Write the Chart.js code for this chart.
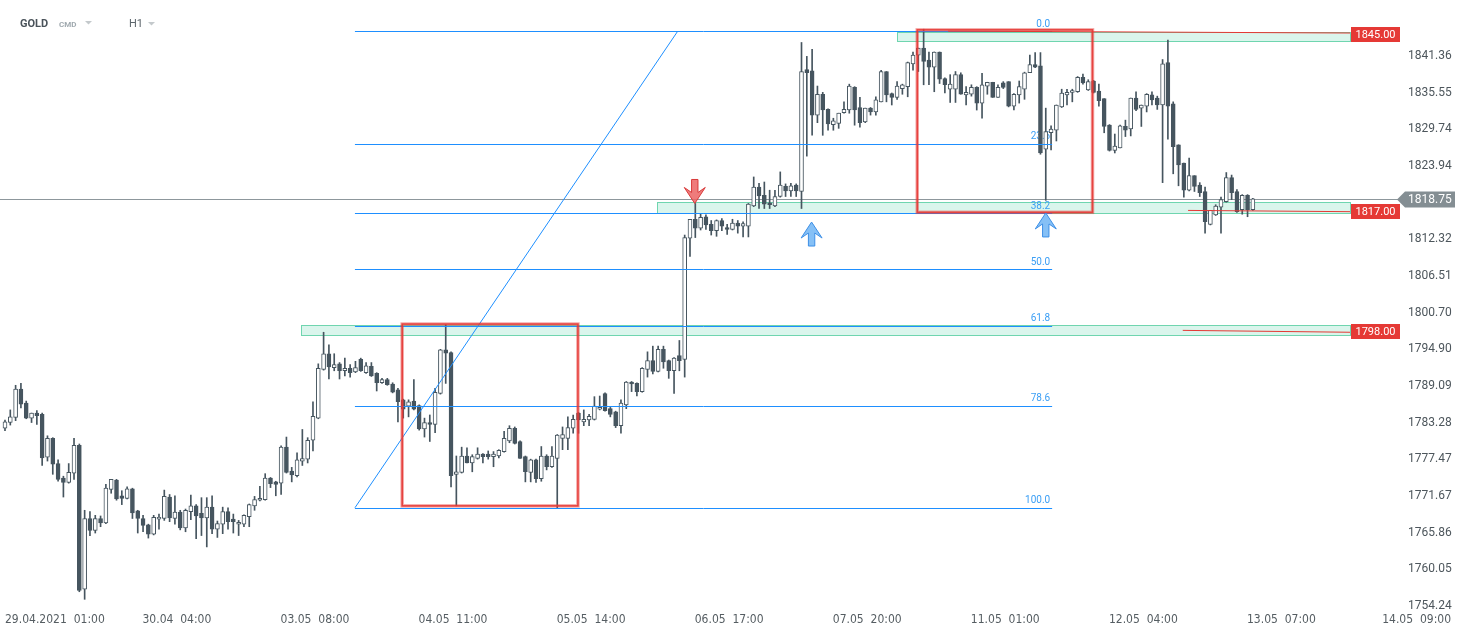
<!DOCTYPE html>
<html>
<head>
<meta charset="utf-8">
<script src="https://cdn.jsdelivr.net/npm/chart.js@4.4.0/dist/chart.umd.min.js"></script>
<style>
  html, body { margin: 0; padding: 0; background: #fff; }
</style>
</head>
<body>
<canvas id="chart" width="1467" height="636"></canvas>
<script>
// GOLD H1 candles, 28.04 - 13.05.2021, one value per hourly bar
const opens = [
  1782.4, 1783.3, 1784.1, 1788.6, 1786.4, 1784.0, 1784.8, 1784.6, 1777.8, 1780.8,
  1776.8, 1774.5, 1773.8, 1775.3, 1779.7, 1756.9, 1768.1, 1766.2, 1768.1, 1767.4,
  1772.7, 1774.2, 1771.7, 1771.3, 1772.8, 1769.3, 1768.1, 1767.1, 1765.6, 1768.0,
  1768.1, 1771.5, 1768.1, 1769.1, 1766.6, 1769.2, 1770.1, 1768.9, 1768.2, 1769.9,
  1766.4, 1767.2, 1769.2, 1768.0, 1767.2, 1767.2, 1768.4, 1770.1, 1771.0, 1771.1,
  1774.5, 1773.9, 1773.7, 1779.4, 1775.6, 1774.9, 1777.2, 1777.5, 1780.5, 1784.0,
  1791.7, 1794.2, 1792.0, 1792.6, 1791.5, 1791.9, 1791.3, 1793.3, 1791.2, 1792.2,
  1791.1, 1789.6, 1790.1, 1789.4, 1788.5, 1786.9, 1785.9, 1786.7, 1786.0, 1782.3,
  1783.3, 1783.0, 1787.9, 1794.8, 1794.4, 1775.1, 1775.4, 1778.0, 1776.9, 1777.6,
  1778.3, 1778.3, 1777.9, 1778.0, 1778.7, 1780.4, 1782.4, 1780.3, 1777.9, 1775.4,
  1777.4, 1774.4, 1778.0, 1776.3, 1777.6, 1780.8, 1780.8, 1782.4, 1784.8, 1783.4,
  1783.7, 1783.8, 1785.4, 1787.9, 1785.5, 1785.0, 1782.8, 1786.1, 1789.7, 1789.5,
  1788.2, 1791.7, 1793.1, 1791.4, 1794.9, 1793.1, 1791.5, 1793.9, 1793.3, 1812.5,
  1815.5, 1814.1, 1815.9, 1814.7, 1813.7, 1815.3, 1814.2, 1813.9, 1814.9, 1814.4,
  1814.4, 1817.6, 1820.6, 1819.3, 1818.1, 1817.6, 1819.1, 1820.7, 1820.0, 1820.9,
  1819.9, 1839.2, 1839.0, 1832.0, 1835.3, 1832.9, 1830.5, 1830.7, 1832.4, 1832.8,
  1836.4, 1833.2, 1830.9, 1833.1, 1832.5, 1834.1, 1838.9, 1835.4, 1834.8, 1836.2,
  1836.5, 1840.1, 1841.5, 1842.6, 1840.7, 1839.6, 1842.0, 1837.8, 1836.1, 1836.1,
  1838.4, 1835.2, 1835.3, 1836.4, 1833.9, 1836.6, 1837.2, 1834.8, 1837.1, 1837.3,
  1833.4, 1835.2, 1836.1, 1838.7, 1840.0, 1839.8, 1826.6, 1829.2, 1829.6, 1833.3,
  1835.2, 1835.6, 1835.7, 1838.0, 1836.0, 1837.4, 1835.8, 1834.6, 1830.4, 1826.4,
  1826.8, 1830.2, 1829.8, 1834.7, 1833.1, 1833.4, 1835.2, 1834.7, 1833.6, 1840.3,
  1833.8, 1827.3, 1824.4, 1820.1, 1822.4, 1820.9, 1819.9, 1814.7, 1816.2, 1817.4,
  1818.3, 1822.1, 1819.9, 1817.0, 1819.3, 1817.0
];
const highs = [
  1783.7, 1785.3, 1789.2, 1789.5, 1786.7, 1784.8, 1785.2, 1784.8, 1781.2, 1780.9,
  1777.4, 1774.8, 1776.8, 1780.8, 1779.9, 1769.4, 1769.2, 1768.6, 1768.5, 1773.5,
  1774.3, 1774.3, 1772.5, 1773.1, 1772.9, 1769.4, 1768.6, 1767.2, 1768.6, 1768.8,
  1772.6, 1771.9, 1771.7, 1769.4, 1769.6, 1771.8, 1770.3, 1771.4, 1771.4, 1771.7,
  1767.7, 1769.9, 1769.8, 1768.8, 1767.8, 1768.7, 1770.4, 1771.6, 1773.2, 1775.2,
  1774.6, 1774.0, 1779.6, 1781.0, 1776.2, 1778.5, 1782.2, 1780.9, 1786.6, 1792.6,
  1797.6, 1795.6, 1794.2, 1792.8, 1793.5, 1792.5, 1793.0, 1793.5, 1792.8, 1792.8,
  1791.2, 1790.3, 1790.3, 1789.6, 1788.7, 1787.0, 1786.9, 1790.1, 1786.1, 1784.0,
  1784.5, 1788.7, 1794.9, 1798.8, 1794.5, 1778.0, 1779.4, 1779.3, 1778.2, 1779.3,
  1778.4, 1778.8, 1778.7, 1779.0, 1781.9, 1782.8, 1782.6, 1780.4, 1778.0, 1777.5,
  1777.5, 1779.5, 1778.2, 1779.5, 1781.4, 1782.6, 1784.2, 1784.5, 1784.9, 1785.3,
  1784.6, 1787.4, 1787.5, 1788.0, 1785.7, 1785.1, 1786.9, 1789.8, 1789.8, 1789.6,
  1792.0, 1794.5, 1795.4, 1795.4, 1795.4, 1793.2, 1793.6, 1796.3, 1813.0, 1815.5,
  1818.0, 1816.4, 1816.2, 1815.3, 1815.4, 1815.6, 1814.7, 1815.5, 1815.3, 1815.1,
  1818.0, 1822.2, 1821.2, 1821.4, 1820.1, 1820.1, 1823.0, 1821.1, 1821.2, 1821.1,
  1843.5, 1841.3, 1842.4, 1836.6, 1835.6, 1833.0, 1831.5, 1832.3, 1834.1, 1836.9,
  1836.5, 1834.8, 1833.1, 1833.2, 1834.9, 1839.1, 1838.9, 1835.5, 1837.3, 1836.9,
  1840.4, 1842.0, 1842.6, 1845.6, 1842.0, 1842.0, 1842.0, 1837.9, 1838.4, 1838.9,
  1838.7, 1836.5, 1836.8, 1836.5, 1838.6, 1837.2, 1837.2, 1836.8, 1837.3, 1837.3,
  1835.4, 1837.4, 1838.8, 1841.5, 1841.9, 1841.9, 1833.1, 1830.3, 1833.6, 1836.1,
  1836.1, 1836.1, 1838.1, 1838.5, 1837.6, 1837.5, 1836.9, 1834.6, 1830.5, 1829.0,
  1830.4, 1831.2, 1834.7, 1835.7, 1833.6, 1835.4, 1835.7, 1835.0, 1840.8, 1843.9,
  1834.1, 1827.3, 1824.4, 1825.2, 1822.4, 1821.3, 1820.6, 1816.9, 1817.8, 1819.0,
  1822.9, 1822.5, 1820.2, 1819.4, 1819.4, 1818.8
];
const lows = [
  1782.0, 1782.9, 1783.6, 1785.6, 1783.9, 1783.3, 1783.0, 1776.5, 1777.2, 1775.1,
  1774.0, 1771.5, 1773.7, 1774.3, 1756.5, 1755.3, 1765.4, 1765.8, 1766.8, 1767.3,
  1772.1, 1771.0, 1770.3, 1771.2, 1768.1, 1765.8, 1766.0, 1765.0, 1765.5, 1766.4,
  1767.8, 1767.6, 1767.2, 1766.3, 1766.0, 1767.9, 1764.9, 1765.4, 1763.6, 1765.7,
  1765.1, 1765.7, 1766.4, 1765.8, 1765.4, 1766.8, 1766.8, 1769.4, 1770.9, 1771.0,
  1773.0, 1771.7, 1771.9, 1775.3, 1773.9, 1774.7, 1776.5, 1776.9, 1778.8, 1783.9,
  1791.6, 1790.2, 1791.5, 1790.2, 1790.7, 1790.5, 1791.2, 1791.4, 1791.1, 1790.6,
  1788.3, 1789.5, 1789.2, 1788.0, 1783.4, 1784.0, 1784.2, 1785.3, 1782.1, 1781.0,
  1780.3, 1781.7, 1787.8, 1789.5, 1773.1, 1770.1, 1775.3, 1776.9, 1775.5, 1777.5,
  1776.9, 1777.5, 1776.3, 1777.7, 1778.6, 1780.1, 1779.9, 1777.6, 1773.9, 1773.9,
  1773.8, 1774.0, 1775.8, 1776.2, 1769.7, 1779.0, 1779.0, 1781.6, 1781.6, 1782.8,
  1782.8, 1783.7, 1785.3, 1785.1, 1784.2, 1782.5, 1781.6, 1785.5, 1788.2, 1787.5,
  1788.1, 1790.5, 1791.0, 1791.3, 1791.9, 1790.3, 1787.9, 1791.5, 1790.5, 1809.6,
  1812.6, 1813.8, 1813.9, 1813.0, 1812.8, 1813.7, 1813.1, 1813.8, 1813.3, 1812.7,
  1812.7, 1817.5, 1817.2, 1817.2, 1817.2, 1817.5, 1819.0, 1819.1, 1819.1, 1819.1,
  1817.2, 1825.5, 1828.8, 1830.8, 1828.8, 1829.6, 1829.6, 1829.9, 1832.3, 1832.3,
  1830.4, 1830.1, 1830.8, 1832.0, 1832.0, 1834.1, 1834.1, 1833.6, 1834.5, 1835.3,
  1834.9, 1839.1, 1838.9, 1836.8, 1836.8, 1835.7, 1837.0, 1835.5, 1834.0, 1834.0,
  1835.3, 1833.6, 1835.0, 1832.8, 1831.5, 1835.3, 1834.8, 1834.8, 1836.2, 1833.3,
  1832.8, 1833.9, 1834.5, 1838.7, 1839.5, 1825.8, 1818.5, 1826.5, 1827.9, 1833.2,
  1833.6, 1834.1, 1835.6, 1836.9, 1835.9, 1835.5, 1833.4, 1829.2, 1826.3, 1826.0,
  1826.8, 1828.6, 1828.7, 1832.7, 1830.2, 1832.5, 1833.6, 1832.9, 1821.3, 1828.2,
  1822.7, 1820.8, 1819.0, 1820.0, 1819.9, 1819.1, 1813.3, 1814.6, 1816.1, 1813.3,
  1818.2, 1818.6, 1816.6, 1816.3, 1815.9, 1816.9
];
const closes = [
  1783.4, 1784.2, 1788.6, 1786.2, 1784.0, 1784.8, 1784.4, 1777.7, 1780.8, 1776.7,
  1774.3, 1773.8, 1775.4, 1779.7, 1756.7, 1768.1, 1766.2, 1768.1, 1767.4, 1772.9,
  1774.3, 1771.2, 1771.3, 1772.8, 1769.0, 1768.1, 1767.0, 1765.6, 1768.3, 1768.3,
  1771.6, 1768.2, 1769.1, 1766.6, 1769.4, 1770.1, 1768.5, 1768.2, 1769.9, 1766.4,
  1767.3, 1769.2, 1767.6, 1767.6, 1767.5, 1768.6, 1770.3, 1771.1, 1771.3, 1774.5,
  1773.6, 1773.5, 1779.4, 1775.4, 1775.0, 1777.4, 1777.6, 1780.5, 1784.3, 1791.9,
  1794.2, 1792.1, 1792.5, 1791.5, 1791.9, 1791.2, 1792.0, 1791.5, 1792.3, 1790.7,
  1789.6, 1790.1, 1789.3, 1788.1, 1786.6, 1785.4, 1786.6, 1785.4, 1782.3, 1783.3,
  1783.0, 1788.1, 1794.8, 1794.3, 1774.9, 1775.5, 1778.0, 1776.9, 1777.9, 1778.3,
  1777.9, 1777.9, 1778.3, 1778.9, 1780.8, 1782.4, 1780.0, 1777.6, 1775.5, 1777.4,
  1774.4, 1778.0, 1776.3, 1778.0, 1781.3, 1781.4, 1782.5, 1783.8, 1783.7, 1783.8,
  1784.3, 1785.9, 1785.7, 1785.2, 1784.6, 1782.8, 1786.4, 1789.7, 1789.4, 1788.2,
  1791.9, 1793.1, 1791.4, 1794.9, 1792.9, 1791.5, 1793.5, 1793.1, 1812.6, 1815.5,
  1814.1, 1815.8, 1814.6, 1813.7, 1815.3, 1814.4, 1813.9, 1814.9, 1814.4, 1814.8,
  1817.9, 1820.6, 1819.2, 1817.9, 1817.8, 1819.1, 1820.9, 1820.0, 1820.8, 1820.0,
  1838.9, 1838.7, 1832.0, 1835.3, 1832.8, 1830.6, 1831.1, 1832.3, 1832.9, 1836.6,
  1832.8, 1830.8, 1833.1, 1832.5, 1834.4, 1838.9, 1835.2, 1834.8, 1836.6, 1836.8,
  1840.3, 1841.5, 1842.6, 1840.5, 1839.6, 1842.0, 1837.7, 1836.8, 1836.9, 1838.4,
  1835.3, 1835.6, 1836.4, 1833.9, 1836.8, 1837.2, 1834.8, 1836.4, 1836.4, 1833.4,
  1835.3, 1836.5, 1838.7, 1840.0, 1839.6, 1826.0, 1829.4, 1829.8, 1833.6, 1835.5,
  1835.6, 1835.9, 1838.0, 1837.1, 1837.3, 1835.6, 1834.3, 1830.2, 1826.4, 1827.1,
  1830.3, 1829.6, 1834.7, 1832.9, 1833.6, 1835.3, 1834.4, 1833.6, 1840.1, 1833.4,
  1827.0, 1824.1, 1820.1, 1822.4, 1820.7, 1819.7, 1815.1, 1816.9, 1817.6, 1818.6,
  1822.1, 1819.7, 1816.7, 1819.3, 1817.0, 1818.75
];

// axis ticks
const yTicks = [1754.24, 1760.05, 1765.86, 1771.67, 1777.47, 1783.28, 1789.09, 1794.90,
  1800.70, 1806.51, 1812.32, 1818.13, 1823.94, 1829.74, 1835.55, 1841.36];
const xTickIndex = [6, 32, 58, 84, 110, 136, 162, 188, 214, 240];
const xTickLabels = ['29.04.2021  01:00', '30.04  04:00', '03.05  08:00', '04.05  11:00', '05.05  14:00',
  '06.05  17:00', '07.05  20:00', '11.05  01:00', '12.05  04:00', '13.05  07:00'];
const lastTimeLabel = '14.05  09:00';

// drawings (bar index / price)
const fibLevels = [0, 23.6, 38.2, 50, 61.8, 78.6, 100];
const fibLabels = ['0.0', '23.6', '38.2', '50.0', '61.8', '78.6', '100.0'];
const fibHigh = 1845.3, fibLow = 1769.8;
const fibFrom = 65.9, fibTo = 197.2, fibHighAt = 126.7;
const zoneTops = [1845.2, 1818.2, 1798.8];
const zoneBottoms = [1843.7, 1816.55, 1797.1];
const zoneStarts = [168.0, 122.8, 55.7];
const zoneEnd = 253.3;
const boxStarts = [74.8, 171.8];
const boxEnds = [107.9, 204.8];
const boxTops = [1798.9, 1845.5];
const boxBottoms = [1770.1, 1816.6];
const levelPrices = [1845.00, 1817.00, 1798.00];
const levelStarts = [177.6, 222.8, 221.8];
const levelFrom = [1845.3, 1816.9, 1797.9];
const levelTo = [1845.0, 1816.7, 1797.6];
const lastPrice = 1818.75;
const downArrows = [[129.9, 1818.0]];
const upArrows = [[151.9, 1815.06], [196.0, 1816.5]];

const CANDLE = '#46555f';
const BLUE = '#1e8fff';
const RED = '#e53935';

const bodies = opens.map((o, i) => ({ x: i, y: [o, closes[i]] }));
const wicks = highs.map((h, i) => ({ x: i, y: [lows[i], h] }));
const bodyColors = opens.map((o, i) => closes[i] >= o ? '#ffffff' : CANDLE);

function arrowPath(ctx, cx, ty, dir) {
  // dir 1: tip at top pointing up, -1: tip at bottom pointing down
  const pts = [[0, 0], [10.5, 16], [3.2, 11], [3.2, 24], [-3.2, 24], [-3.2, 11], [-10.5, 16]];
  ctx.beginPath();
  pts.forEach(([dx, dy], k) => {
    const px = cx + dx, py = ty + dy * dir;
    if (k === 0) ctx.moveTo(px, py); else ctx.lineTo(px, py);
  });
  ctx.closePath();
}

const overlay = {
  id: 'overlay',
  beforeDatasetsDraw(chart) {
    const { ctx, chartArea, scales: { x, y } } = chart;
    ctx.save();
    // support / resistance zones
    zoneTops.forEach((t, k) => {
      const x1 = Math.round(x.getPixelForValue(zoneStarts[k])), x2 = Math.round(x.getPixelForValue(zoneEnd));
      const y1 = Math.round(y.getPixelForValue(t)), y2 = Math.round(y.getPixelForValue(zoneBottoms[k]));
      ctx.fillStyle = '#daf5ec';
      ctx.fillRect(x1, y1, x2 - x1, y2 - y1);
      ctx.strokeStyle = '#6fd5af';
      ctx.lineWidth = 1;
      ctx.strokeRect(x1 + 0.5, y1 + 0.5, x2 - x1, y2 - y1);
    });
    // current price line
    const yp = Math.round(y.getPixelForValue(lastPrice)) + 0.5;
    ctx.strokeStyle = '#8d979c';
    ctx.beginPath(); ctx.moveTo(chartArea.left, yp); ctx.lineTo(chartArea.right, yp); ctx.stroke();
    // fib labels
    ctx.fillStyle = '#3a9ef5';
    ctx.font = '10px Roboto, sans-serif';
    ctx.textAlign = 'right';
    ctx.textBaseline = 'alphabetic';
    const xr = x.getPixelForValue(fibTo) - 2;
    fibLevels.forEach((lv, k) => {
      const py = y.getPixelForValue(fibHigh - (fibHigh - fibLow) * lv / 100);
      ctx.fillText(fibLabels[k], xr, py - 4.5);
    });
    ctx.restore();
  },
  afterDatasetsDraw(chart) {
    const { ctx, chartArea, scales: { x, y } } = chart;
    ctx.save();
    // fibonacci lines
    ctx.strokeStyle = BLUE;
    ctx.lineWidth = 1;
    const fx1 = x.getPixelForValue(fibFrom), fx2 = x.getPixelForValue(fibTo);
    fibLevels.forEach(lv => {
      const py = Math.round(y.getPixelForValue(fibHigh - (fibHigh - fibLow) * lv / 100)) + 0.5;
      ctx.beginPath(); ctx.moveTo(fx1, py); ctx.lineTo(fx2, py); ctx.stroke();
    });
    ctx.beginPath();
    ctx.moveTo(fx1, y.getPixelForValue(fibLow));
    ctx.lineTo(x.getPixelForValue(fibHighAt), y.getPixelForValue(fibHigh));
    ctx.stroke();
    // red boxes
    boxStarts.forEach((b, k) => {
      const x1 = x.getPixelForValue(b), x2 = x.getPixelForValue(boxEnds[k]);
      const y1 = y.getPixelForValue(boxTops[k]), y2 = y.getPixelForValue(boxBottoms[k]);
      ctx.strokeStyle = 'rgba(229,57,53,0.45)';
      ctx.lineWidth = 3.5;
      ctx.strokeRect(x1, y1, x2 - x1, y2 - y1);
      ctx.strokeStyle = 'rgba(229,57,53,0.9)';
      ctx.lineWidth = 1.6;
      ctx.strokeRect(x1, y1, x2 - x1, y2 - y1);
    });
    // red level lines
    ctx.strokeStyle = RED;
    ctx.lineWidth = 1;
    levelStarts.forEach((s, k) => {
      ctx.beginPath();
      ctx.moveTo(x.getPixelForValue(s), y.getPixelForValue(levelFrom[k]));
      ctx.lineTo(x.getPixelForValue(zoneEnd), y.getPixelForValue(levelTo[k]));
      ctx.stroke();
    });
    // arrows
    ctx.lineWidth = 1;
    downArrows.forEach(([i, p]) => {
      arrowPath(ctx, x.getPixelForValue(i), y.getPixelForValue(p), -1);
      ctx.fillStyle = 'rgba(236,100,100,0.85)'; ctx.fill();
      ctx.strokeStyle = '#d83a3a'; ctx.stroke();
    });
    upArrows.forEach(([i, p]) => {
      arrowPath(ctx, x.getPixelForValue(i), y.getPixelForValue(p), 1);
      ctx.fillStyle = 'rgba(120,185,245,0.9)'; ctx.fill();
      ctx.strokeStyle = '#3d8fe6'; ctx.stroke();
    });
    ctx.restore();
  },
  afterDraw(chart) {
    const { ctx, chartArea, scales: { x, y } } = chart;
    ctx.save();
    // red price tags
    ctx.font = '11px Roboto, sans-serif';
    ctx.textAlign = 'center';
    ctx.textBaseline = 'middle';
    const tx1 = Math.round(x.getPixelForValue(zoneEnd)) + 1;
    levelPrices.forEach(p => {
      const py = Math.round(y.getPixelForValue(p)) + 1;
      ctx.fillStyle = RED;
      ctx.fillRect(tx1, py - 7, chartArea.right - tx1, 15);
      ctx.fillStyle = '#ffffff';
      ctx.fillText(p.toFixed(2), (tx1 + chartArea.right) / 2, py + 1);
    });
    // current price tag
    const yp = Math.round(y.getPixelForValue(lastPrice)) + 0.5;
    const lx = chartArea.right - 3;
    ctx.fillStyle = '#848e93';
    ctx.beginPath();
    ctx.moveTo(lx, yp);
    ctx.lineTo(lx + 8, yp - 8);
    ctx.lineTo(lx + 58, yp - 8);
    ctx.lineTo(lx + 58, yp + 8);
    ctx.lineTo(lx + 8, yp + 8);
    ctx.closePath();
    ctx.fill();
    ctx.fillStyle = '#ffffff';
    ctx.font = '12px Roboto, sans-serif';
    ctx.textAlign = 'left';
    ctx.fillText(lastPrice.toFixed(2), chartArea.right + 8, yp + 0.5);
    // time labels
    ctx.fillStyle = '#555d62';
    ctx.font = '12px "Liberation Sans Narrow", "DejaVu Sans Condensed", sans-serif';
    ctx.textBaseline = 'middle';
    ctx.textAlign = 'left';
    xTickIndex.forEach((i, k) => {
      const w = ctx.measureText(xTickLabels[k]).width;
      const cx = x.getPixelForValue(i) + 2;
      const left = Math.max(5, cx - w / 2);
      ctx.fillText(xTickLabels[k], left, 620);
    });
    ctx.textAlign = 'right';
    ctx.fillText(lastTimeLabel, 1451, 620);
    // header
    ctx.textAlign = 'left';
    ctx.fillStyle = '#4a535a';
    ctx.font = 'bold 11px Roboto, sans-serif';
    ctx.fillText('GOLD', 20, 24);
    ctx.fillStyle = '#a0a9af';
    ctx.font = 'bold 8px Roboto, sans-serif';
    ctx.fillText('CMD', 59, 24.5);
    ctx.fillStyle = '#5d666c';
    ctx.font = '11px Roboto, sans-serif';
    ctx.fillText('H1', 129, 24.5);
    ctx.fillStyle = '#c4c9cc';
    [[85, 21], [148, 22]].forEach(([tx, ty]) => {
      ctx.beginPath(); ctx.moveTo(tx, ty); ctx.lineTo(tx + 7, ty); ctx.lineTo(tx + 3.5, ty + 3.5); ctx.closePath(); ctx.fill();
    });
    ctx.restore();
  }
};

new Chart(document.getElementById('chart'), {
  type: 'bar',
  data: {
    datasets: [
      { label: 'body', data: bodies, order: 1, grouped: false, barThickness: 4, minBarLength: 1,
        backgroundColor: bodyColors, borderColor: CANDLE, borderWidth: 1, borderSkipped: false },
      { label: 'wick', data: wicks, order: 2, grouped: false, barThickness: 1,
        backgroundColor: CANDLE, borderWidth: 0 }
    ]
  },
  options: {
    responsive: false,
    animation: false,
    devicePixelRatio: 1,
    layout: { padding: { left: 0, right: 0, top: 0, bottom: 24 } },
    plugins: { legend: { display: false }, tooltip: { enabled: false } },
    scales: {
      x: { type: 'linear', min: -0.94, max: 262.71, offset: false, display: false },
      y: {
        position: 'right', min: 1753.29, max: 1850.23,
        grid: { display: false, drawTicks: false }, border: { display: false },
        afterBuildTicks: s => { s.ticks = yTicks.map(v => ({ value: v })); },
        afterFit: s => { s.width = 67; s.paddingTop = 0; s.paddingBottom = 0; },
        ticks: { padding: 8, color: '#4d565c', font: { family: 'Roboto', size: 12 },
          callback: v => Number(v).toFixed(2) }
      }
    }
  },
  plugins: [overlay]
});
</script>
</body>
</html>
